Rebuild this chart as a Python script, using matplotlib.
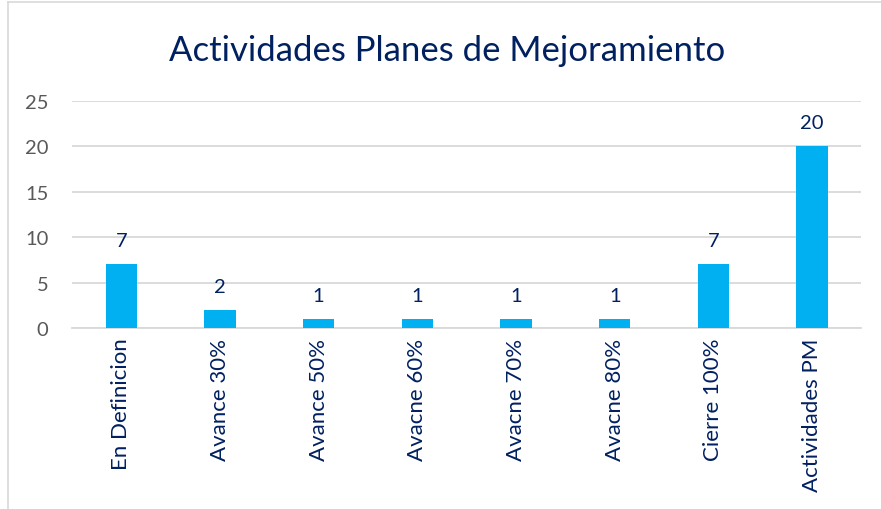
import matplotlib.pyplot as plt

categories = ["En Definicion", "Avance 30%", "Avance 50%", "Avacne 60%",
              "Avacne 70%", "Avacne 80%", "Cierre 100%", "Actividades PM"]
values = [7, 2, 1, 1, 1, 1, 7, 20]
y_ticks = [0, 5, 10, 15, 20, 25]

navy = "#002060"
bar_color = "#00B0F0"
grid_color = "#D9D9D9"


def draw_bars(ax):
    x = range(len(categories))
    bars = ax.bar(x, values, width=0.32, color=bar_color, zorder=3)
    for b, v in zip(bars, values):
        ax.text(b.get_x() + b.get_width() / 2, v + 2.6, str(v),
                ha="center", va="center", color=navy, fontsize=14.5)
    ax.set_xticks(list(x))
    ax.set_xticklabels(categories, rotation=90, color=navy, fontsize=16)
    ax.set_xlim(-0.5, len(categories) - 0.5)
    ax.set_ylim(0, 25)
    ax.set_yticks(y_ticks)
    ax.tick_params(axis="y", colors="#595959", labelsize=14.5, length=0, pad=17)
    ax.tick_params(axis="x", length=0, pad=7)
    ax.grid(axis="y", color=grid_color, linewidth=1.3, zorder=0)
    for s in ["top", "right", "left"]:
        ax.spines[s].set_visible(False)
    ax.spines["bottom"].set_color(grid_color)
    ax.spines["bottom"].set_linewidth(1.3)


def create_plot(path_plot):
    plt.rcParams["font.family"] = ["Lato", "DejaVu Sans"]
    fig = plt.figure(figsize=(8.81, 5.10), dpi=100)
    ax = fig.add_axes([0.0817, 0.355, 0.896, 0.445])
    fig.text(0.508, 0.9, "Actividades Planes de Mejoramiento",
             ha="center", va="center", color=navy, fontsize=25)
    fig.add_artist(plt.Line2D([0.009, 0.009], [0, 0.994], color="#D9D9D9",
                              linewidth=1.2, transform=fig.transFigure))
    fig.add_artist(plt.Line2D([0.009, 1], [0.994, 0.994], color="#D9D9D9",
                              linewidth=1.2, transform=fig.transFigure))
    draw_bars(ax)
    fig.savefig(path_plot, dpi=100)


if __name__ == "__main__":
    create_plot("out.png")
